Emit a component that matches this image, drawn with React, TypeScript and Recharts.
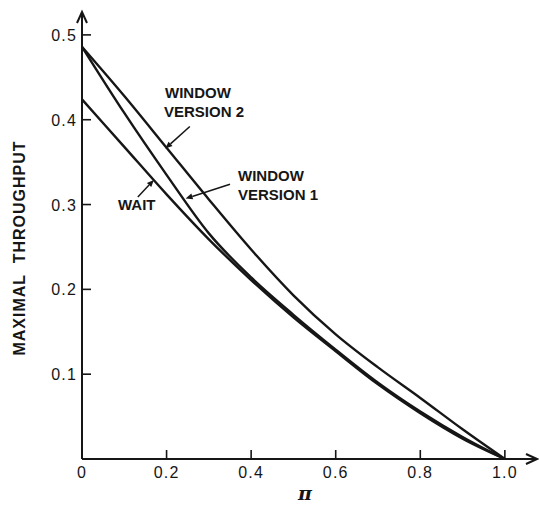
import React from 'react'
import { LineChart, Line, XAxis, YAxis, ReferenceDot, ReferenceLine } from 'recharts'

const piValues = [0, 0.1, 0.2, 0.3, 0.4, 0.5, 0.6, 0.7, 0.8, 0.9, 1.0]
const windowV2 = [0.486, 0.428, 0.367, 0.306, 0.247, 0.193, 0.147, 0.108, 0.072, 0.035, 0]
const windowV1 = [0.486, 0.408, 0.335, 0.266, 0.214, 0.17, 0.129, 0.09, 0.056, 0.026, 0]
const wait = [0.424, 0.368, 0.312, 0.259, 0.211, 0.167, 0.127, 0.088, 0.054, 0.024, 0]

const xTicks = [0, 0.2, 0.4, 0.6, 0.8, 1.0]
const yTicks = [0.1, 0.2, 0.3, 0.4, 0.5]

const data = piValues.map((pi, i) => ({
    pi,
    v2: windowV2[i],
    v1: windowV1[i],
    wait: wait[i],
}))

const INK = '#161616'
const FONT = '"Liberation Sans", Arial, sans-serif'

const XTick = ({ x, y, payload }: any) => (
    <g>
        <line x1={x} x2={x} y1={y} y2={y - 9} stroke={INK} strokeWidth={1.6} />
        <text x={x} y={y + 19} textAnchor="middle" fontSize={16} fontFamily={FONT} fill={INK} letterSpacing={1.2}>
            {payload.value === 0 ? '0' : payload.value.toFixed(1)}
        </text>
    </g>
)

const YTick = ({ x, y, payload }: any) => (
    <g>
        <line x1={x} x2={x + 9} y1={y} y2={y} stroke={INK} strokeWidth={1.6} />
        <text x={x - 5} y={y + 6} textAnchor="end" fontSize={16} fontFamily={FONT} fill={INK} letterSpacing={1.2}>
            {payload.value.toFixed(1)}
        </text>
    </g>
)

const upArrow = ({ cx, cy }: any) => (
    <path d={`M${cx - 5},${cy + 11} L${cx},${cy} L${cx + 5},${cy + 11}`} fill="none" stroke={INK} strokeWidth={2} />
)

const rightArrow = ({ cx, cy }: any) => (
    <path d={`M${cx - 11},${cy - 5} L${cx},${cy} L${cx - 11},${cy + 5}`} fill="none" stroke={INK} strokeWidth={2} />
)

const leader = (props: any) => {
    const { x1, y1, x2, y2 } = props
    const a = Math.atan2(y2 - y1, x2 - x1)
    const len = 7
    const w = 3
    const bx = x2 - len * Math.cos(a)
    const by = y2 - len * Math.sin(a)
    const px = -Math.sin(a) * w
    const py = Math.cos(a) * w
    return (
        <g>
            <line x1={x1} y1={y1} x2={bx} y2={by} stroke={INK} strokeWidth={1.5} />
            <path d={`M${x2},${y2} L${bx + px},${by + py} L${bx - px},${by - py} Z`} fill={INK} />
        </g>
    )
}

const labelStyle = { fontSize: 15, fontWeight: 700, fontFamily: FONT, fill: INK }

export default function App() {
    return (
        <div style={{ position: 'absolute', left: 0, top: 0, background: '#fff' }}>
            <LineChart width={539} height={508} data={data} margin={{ top: 12, right: 2, bottom: 0, left: 0 }}>
                <XAxis
                    type="number"
                    dataKey="pi"
                    domain={[0, 1.076]}
                    ticks={xTicks}
                    height={49}
                    tickSize={0}
                    tickMargin={0}
                    tickLine={false}
                    tick={<XTick />}
                    axisLine={{ stroke: INK, strokeWidth: 2 }}
                />
                <YAxis
                    type="number"
                    domain={[0, 0.527]}
                    ticks={yTicks}
                    width={82}
                    tickSize={0}
                    tickMargin={0}
                    tickLine={false}
                    tick={<YTick />}
                    axisLine={{ stroke: INK, strokeWidth: 2 }}
                />
                <Line type="monotone" dataKey="v2" stroke={INK} strokeWidth={2.4} dot={false} isAnimationActive={false} />
                <Line type="monotone" dataKey="v1" stroke={INK} strokeWidth={2.4} dot={false} isAnimationActive={false} />
                <Line type="monotone" dataKey="wait" stroke={INK} strokeWidth={2.4} dot={false} isAnimationActive={false} />
                <ReferenceDot x={0} y={0.527} r={0} ifOverflow="visible" shape={upArrow} />
                <ReferenceDot x={1.076} y={0} r={0} ifOverflow="visible" shape={rightArrow} />
                <ReferenceLine segment={[{ x: 0.255, y: 0.392 }, { x: 0.197, y: 0.366 }]} ifOverflow="visible" shape={leader} />
                <ReferenceLine segment={[{ x: 0.35, y: 0.324 }, { x: 0.245, y: 0.307 }]} ifOverflow="visible" shape={leader} />
                <ReferenceLine segment={[{ x: 0.132, y: 0.309 }, { x: 0.170, y: 0.329 }]} ifOverflow="visible" shape={leader} />
                <text x={165} y={98} style={labelStyle}>WINDOW</text>
                <text x={164} y={117} style={labelStyle}>VERSION 2</text>
                <text x={238} y={181} style={labelStyle}>WINDOW</text>
                <text x={238} y={200} style={labelStyle}>VERSION 1</text>
                <text x={118} y={210} style={labelStyle}>WAIT</text>
                <text
                    x={25}
                    y={248}
                    transform="rotate(-90 25 248)"
                    textAnchor="middle"
                    style={{ ...labelStyle, fontSize: 16, letterSpacing: 1, whiteSpace: 'pre' }}
                >
                    {'MAXIMAL  THROUGHPUT'}
                </text>
                <text x={305} y={500} textAnchor="middle" fontSize={19} fontWeight={700} fontStyle="italic" fontFamily='"DejaVu Serif", serif' fill={INK}>
                    π
                </text>
            </LineChart>
        </div>
    )
}
